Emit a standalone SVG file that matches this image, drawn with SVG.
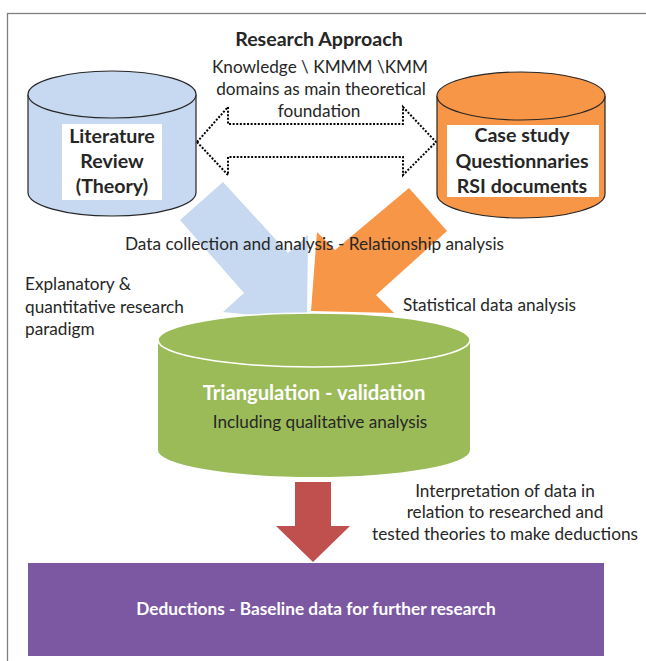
<svg xmlns="http://www.w3.org/2000/svg" width="646" height="661" viewBox="0 0 646 661">
<style>
  text { font-family: Lato, "Open Sans", "Liberation Sans", sans-serif; fill: #262626; }
  .reg { font-size: 17.2px; }
  .hd { font-size: 19.6px; font-weight: bold; }
  .cyl { stroke: #262626; stroke-width: 1.2; }
  .wt { fill: #ffffff; }
  .mid { text-anchor: middle; }
</style>
<rect x="0" y="0" width="646" height="661" fill="#ffffff"/>
<rect x="7.5" y="13.5" width="680" height="680" fill="none" stroke="#7f7f7f" stroke-width="1.3"/>

<g id="title">
  <text class="mid" x="319" y="46" style="font-size:19.6px;font-weight:bold">Research Approach</text>
  <text class="reg mid" x="320" y="73">Knowledge \ KMMM \KMM</text>
  <text class="reg mid" x="321" y="95">domains as main theoretical</text>
  <text class="reg mid" x="319" y="117">foundation</text>
</g>

<g id="connectors">
  <path d="M197,142 L228,107 L228,124 L403,124 L403,107 L436,142 L403,175 L403,157 L228,157 L228,175 Z" fill="none" stroke="#000" stroke-width="2" stroke-dasharray="2,1.6"/>
  <polygon id="blue-arrow" points="223,182 288,253 308,235 307,320 223,312 244,293 180,220" fill="#C6D9F0"/>
  <polygon id="orange-arrow" points="409,188 447,231 376,295 394,313 311,311 317,232 335,250" fill="#F79646"/>
  <polygon id="red-arrow" points="295,482 331,482 331,526 350,526 313,562 276,526 295,526" fill="#C0504D"/>
</g>

<g id="literature">
  <path class="cyl" d="M28,94.5 V192.5 A84,23.5 0 0 0 196,192.5 V94.5" fill="#C6D9F0"/>
  <ellipse class="cyl" cx="112" cy="94.5" rx="84" ry="23.5" fill="#C6D9F0"/>
  <rect x="62" y="124" width="100" height="76" fill="#ffffff"/>
  <text class="hd mid" x="112" y="143">Literature</text>
  <text class="hd mid" x="112" y="168">Review</text>
  <text class="hd mid" x="112" y="193">(Theory)</text>
</g>

<g id="casestudy">
  <path class="cyl" d="M437,96 V194 A84,24 0 0 0 605,194 V96" fill="#F79646"/>
  <ellipse class="cyl" cx="521" cy="96" rx="84" ry="24" fill="#F79646"/>
  <rect x="447" y="125" width="152" height="72" fill="#ffffff"/>
  <text class="hd mid" x="522" y="142">Case study</text>
  <text class="hd mid" x="522" y="168">Questionnaries</text>
  <text class="hd mid" x="522" y="193">RSI documents</text>
</g>

<g id="labels">
  <text class="reg" x="125" y="250">Data collection and analysis - Relationship analysis</text>
  <text class="reg" x="25" y="290">Explanatory &amp;</text>
  <text class="reg" x="25" y="313">quantitative research</text>
  <text class="reg" x="25" y="335">paradigm</text>
  <text class="reg" x="403" y="311">Statistical data analysis</text>
  <text class="reg mid" x="505" y="497">Interpretation of data in</text>
  <text class="reg mid" x="505" y="518">relation to researched and</text>
  <text class="reg mid" x="505" y="540">tested theories to make deductions</text>
</g>

<g id="triangulation">
  <path d="M158,340 V450 A156,27 0 0 0 470,450 V340 Z" fill="#9BBB59"/>
  <ellipse cx="314" cy="340" rx="156" ry="27" fill="#9BBB59" stroke="#ffffff" stroke-width="1.5"/>
  <text class="mid wt" x="314" y="400" style="font-size:20.2px;font-weight:bold">Triangulation - validation</text>
  <text class="reg mid" x="320" y="428">Including qualitative analysis</text>
</g>

<g id="deductions">
  <rect x="28" y="563" width="576" height="93" fill="#7B58A1"/>
  <text class="mid wt" x="316" y="615" style="font-size:17.3px;font-weight:bold">Deductions - Baseline data for further research</text>
</g>
</svg>
